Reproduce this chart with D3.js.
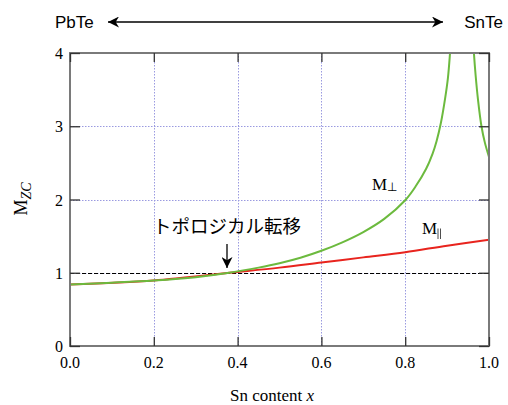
<!DOCTYPE html>
<html>
<head>
<meta charset="utf-8">
<script src="https://cdn.jsdelivr.net/npm/d3@7"></script>
<style>
  body { margin: 0; background: #fff; }
  svg { display: block; }
</style>
</head>
<body>
<div class="Graph"></div>
<script>
// values
var xTicks = [0, 0.2, 0.4, 0.6, 0.8, 1.0];
var yTicks = [0, 1, 2, 3, 4];

var perpX = [0, 0.1, 0.2, 0.3, 0.38, 0.45, 0.5, 0.55, 0.6, 0.65, 0.7, 0.75, 0.8, 0.825, 0.85, 0.865, 0.875, 0.885, 0.895, 0.902, 0.907, 0.91];
var perpY = [0.84, 0.865, 0.895, 0.94, 1.0, 1.07, 1.13, 1.205, 1.3, 1.415, 1.555, 1.735, 1.99, 2.18, 2.42, 2.62, 2.8, 3.04, 3.37, 3.66, 4.0, 4.25];
var perp2X = [0.962, 0.964, 0.968, 0.974, 0.982, 0.99, 1.0];
var perp2Y = [4.2, 4.0, 3.7, 3.35, 3.0, 2.78, 2.58];

var parX = [0, 0.2, 0.38, 0.5, 0.6, 0.7, 0.8, 0.9, 1.0];
var parY = [0.84, 0.895, 1.0, 1.07, 1.14, 1.21, 1.28, 1.37, 1.45];

var W = 508, H = 405;
var margin = { top: 53, right: 19, bottom: 59, left: 70 },
    width = W - margin.left - margin.right,
    height = H - margin.top - margin.bottom;

var serif = "'Liberation Serif', 'Times New Roman', serif";
var sans = "'Liberation Sans', Arial, sans-serif";

var root = d3.select(".Graph").append("svg")
    .attr("width", W).attr("height", H);

var svg = root.append("g")
    .attr("transform", "translate(" + margin.left + "," + margin.top + ")");

var x = d3.scaleLinear().domain([0, 1]).range([0, width]);
var y = d3.scaleLinear().domain([0, 4]).range([height, 0]);

svg.append("clipPath").attr("id", "clip")
    .append("rect").attr("width", width).attr("height", height);

// grid (snapped to pixel centres so the dots keep their colour)
svg.selectAll(".gx").data(xTicks).enter().append("line")
    .attr("x1", d => Math.round(x(d)) + 0.5).attr("x2", d => Math.round(x(d)) + 0.5)
    .attr("y1", 0).attr("y2", height)
    .attr("stroke", "#9a9ae0").attr("stroke-width", 1)
    .attr("stroke-dasharray", "1.5,1.5");
svg.selectAll(".gy").data(yTicks).enter().append("line")
    .attr("x1", 0).attr("x2", width)
    .attr("y1", d => Math.round(y(d)) + 0.5).attr("y2", d => Math.round(y(d)) + 0.5)
    .attr("stroke", "#9a9ae0").attr("stroke-width", 1)
    .attr("stroke-dasharray", "1.5,1.5");

// dashed line at 1
svg.append("line")
    .attr("x1", 0).attr("x2", width)
    .attr("y1", Math.round(y(1)) + 0.5).attr("y2", Math.round(y(1)) + 0.5)
    .attr("stroke", "#000").attr("stroke-width", 1)
    .attr("stroke-dasharray", "4,2");

// curves
var line = d3.line()
    .x(d => x(d[0])).y(d => y(d[1]))
    .curve(d3.curveCatmullRom.alpha(0.5));

var plot = svg.append("g").attr("clip-path", "url(#clip)");
plot.append("path")
    .attr("d", line(parX.map((v, i) => [v, parY[i]])))
    .attr("fill", "none").attr("stroke", "#e8241e").attr("stroke-width", 2);
plot.append("path")
    .attr("d", line(perpX.map((v, i) => [v, perpY[i]])))
    .attr("fill", "none").attr("stroke", "#6cba3e").attr("stroke-width", 2);
plot.append("path")
    .attr("d", line(perp2X.map((v, i) => [v, perp2Y[i]])))
    .attr("fill", "none").attr("stroke", "#6cba3e").attr("stroke-width", 2);

// frame
svg.append("rect")
    .attr("width", width).attr("height", height)
    .attr("fill", "none").attr("stroke", "#7a7a7a").attr("stroke-width", 2);

// inward ticks on all sides
svg.append("g").attr("transform", "translate(0," + height + ")")
    .call(d3.axisBottom(x).tickValues(xTicks).tickSize(-9).tickFormat(""))
    .call(g => g.select(".domain").remove());
svg.append("g")
    .call(d3.axisTop(x).tickValues(xTicks).tickSize(-9).tickFormat(""))
    .call(g => g.select(".domain").remove());
svg.append("g")
    .call(d3.axisLeft(y).tickValues(yTicks).tickSize(-10).tickFormat(""))
    .call(g => g.select(".domain").remove());
svg.append("g").attr("transform", "translate(" + width + ",0)")
    .call(d3.axisRight(y).tickValues(yTicks).tickSize(-10).tickFormat(""))
    .call(g => g.select(".domain").remove());
svg.selectAll(".tick line").attr("stroke", "#333").attr("stroke-width", 1.3);

// tick labels
svg.selectAll(".xl").data(xTicks).enter().append("text")
    .attr("x", d => x(d)).attr("y", height + 22)
    .attr("text-anchor", "middle")
    .style("font-family", serif).style("font-size", "16px")
    .text(d => d3.format(".1f")(d));
svg.selectAll(".yl").data(yTicks).enter().append("text")
    .attr("x", -7).attr("y", d => y(d) + 6)
    .attr("text-anchor", "end")
    .style("font-family", serif).style("font-size", "16px")
    .text(d => d);

// axis titles
var xt = root.append("text")
    .attr("x", 272).attr("y", 401)
    .attr("text-anchor", "middle")
    .style("font-family", serif).style("font-size", "17px");
xt.append("tspan").text("Sn content ");
xt.append("tspan").style("font-style", "italic").text("x");

var yt = root.append("text")
    .attr("transform", "translate(27,199) rotate(-90)")
    .attr("text-anchor", "middle")
    .style("font-family", serif).style("font-size", "18px");
yt.append("tspan").text("M");
yt.append("tspan").attr("dy", 4).style("font-size", "14px").style("font-style", "italic").text("ZC");

// curve labels
var lp = root.append("text").attr("x", 372).attr("y", 190)
    .style("font-family", serif).style("font-size", "17px");
lp.append("tspan").text("M");
lp.append("tspan").attr("dy", 1).style("font-size", "12px").text("⊥");

root.append("text").attr("x", 422).attr("y", 234)
    .style("font-family", serif).style("font-size", "17px")
    .text("M");
// parallel sign drawn as two thin bars
root.selectAll(".par").data([438, 440.5]).enter().append("line")
    .attr("x1", d => d).attr("x2", d => d)
    .attr("y1", 228.5).attr("y2", 239)
    .attr("stroke", "#222").attr("stroke-width", 0.8);

// annotation
root.append("text")
    .attr("x", 153).attr("y", 233)
    .style("font-family", "'Noto Sans CJK JP', sans-serif").style("font-size", "18.5px")
    .text("トポロジカル転移");

var defs = root.append("defs");
defs.append("marker").attr("id", "ah")
    .attr("viewBox", "0 0 10 10").attr("refX", 10).attr("refY", 5)
    .attr("markerWidth", 11).attr("markerHeight", 11)
    .attr("markerUnits", "userSpaceOnUse")
    .attr("orient", "auto-start-reverse")
    .append("path").attr("d", "M0,0 L10,5 L0,10 L3,5 Z").attr("fill", "#000");

root.append("line")
    .attr("x1", 227).attr("x2", 227).attr("y1", 244).attr("y2", 268)
    .attr("stroke", "#000").attr("stroke-width", 1.3)
    .attr("marker-end", "url(#ah)");

// top composition arrow
root.append("text").attr("x", 55).attr("y", 28)
    .style("font-family", sans).style("font-size", "17px").text("PbTe");
root.append("text").attr("x", 503).attr("y", 28).attr("text-anchor", "end")
    .style("font-family", sans).style("font-size", "17px").text("SnTe");
root.append("line")
    .attr("x1", 108).attr("x2", 443).attr("y1", 22).attr("y2", 22)
    .attr("stroke", "#000").attr("stroke-width", 1.3)
    .attr("marker-start", "url(#ah)").attr("marker-end", "url(#ah)");
</script>
</body>
</html>
